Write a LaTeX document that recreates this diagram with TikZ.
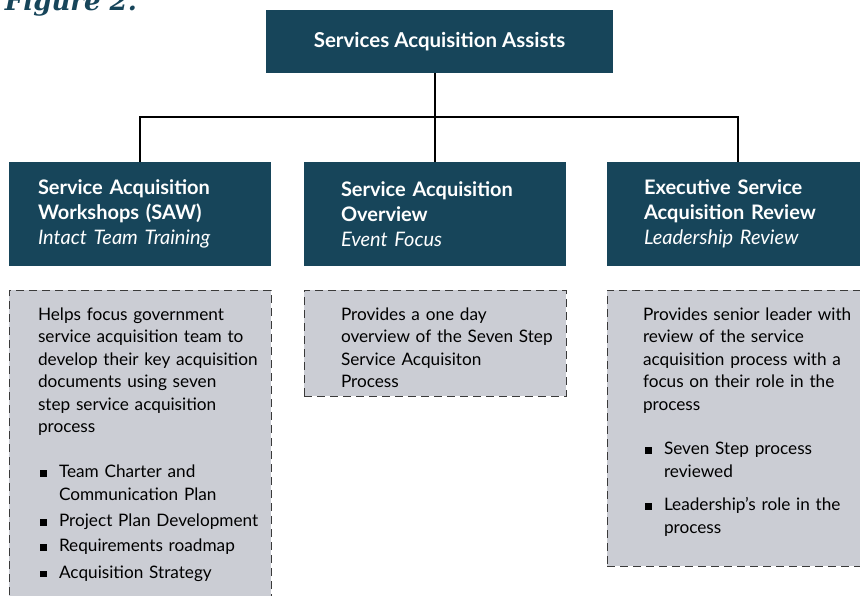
\documentclass[tikz,border=0pt]{standalone}
\usepackage{fontspec}
\setmainfont{Lato}
\newfontfamily\titlefont{DejaVu Serif}
\usetikzlibrary{positioning}
\definecolor{saablue}{HTML}{17455A}
\definecolor{saagray}{HTML}{CBCDD4}
\definecolor{saadash}{HTML}{3A3A3A}
\newcommand{\sqb}{\rule[1pt]{6.5pt}{6.5pt}}
\newcommand{\bitem}{\makebox[21pt][l]{\hspace*{2pt}\sqb}}
\newcommand{\bcont}{\hspace*{21pt}}
\begin{document}
\begin{tikzpicture}[x=1pt,y=-1pt,inner sep=0pt,outer sep=0pt,
conn/.style={draw,line width=1.4pt},
topbox/.style={fill=saablue,text=white,minimum width=347,minimum height=63,font=\bfseries\fontsize{20.5}{24}\selectfont},
headbox/.style={fill=saablue,text=white,minimum width=262,minimum height=104,text width=204,align=left,font=\bfseries\fontsize{20}{25}\selectfont},
descbox/.style={fill=saagray,draw=saadash,line width=1pt,dash pattern=on 8pt off 5pt,minimum width=262},
desctext/.style={anchor=base west,text width=230,align=left,font=\fontsize{17.2}{22.5}\selectfont}]

\useasboundingbox (0,0) rectangle (860,595);

\draw (5,10) node[anchor=base west,text=saablue,font=\titlefont\bfseries\itshape\fontsize{26}{26}\selectfont] (title) {Figure 2.};

\draw (439.5,41.5) node[topbox] (top) {Services Acquisition Assists};

\draw (140,214) node[headbox] (saw) {Service Acquisition\\Workshops (SAW)\\\mdseries\itshape Intact Team Training};
\draw (435,214) node[headbox,text width=188] (ov) {Service Acquisition\\Overview\\\mdseries\itshape Event Focus};
\draw (738,214) node[headbox,text width=188] (esr) {Executive Service\\Acquisition Review\\\mdseries\itshape Leadership Review};

\node[descbox,minimum height=310,below=24pt of saw] (sawdesc) {};
\node[descbox,minimum height=106,below=24pt of ov] (ovdesc) {};
\node[descbox,minimum height=276,below=24pt of esr] (esrdesc) {};

\draw (38,320) node[desctext] (sawtext) {Helps focus government\\service acquisition team to\\develop their key acquisition\\documents using seven\\step service acquisition\\process\\[22.5pt]
\bitem Team Charter and\\\bcont Communication Plan\\[4pt]
\bitem Project Plan Development\\[2.5pt]
\bitem Requirements roadmap\\[4pt]
\bitem Acquisition Strategy};
\draw (341,320) node[desctext] (ovtext) {Provides a one day\\overview of the Seven Step\\Service Acquisiton\\Process};
\draw (643,320) node[desctext] (esrtext) {Provides senior leader with\\review of the service\\acquisition process with a\\focus on their role in the\\process\\[22pt]
\bitem Seven Step process\\\bcont reviewed\\[11pt]
\bitem Leadership’s role in the\\\bcont process};

\coordinate (bus) at (435,117);
\draw[conn] (ov.north |- top.south) -- (bus);
\draw[conn] (saw.north) |- (bus) -| (esr.north);
\draw[conn] (bus) -- (ov.north);

\end{tikzpicture}
\end{document}
